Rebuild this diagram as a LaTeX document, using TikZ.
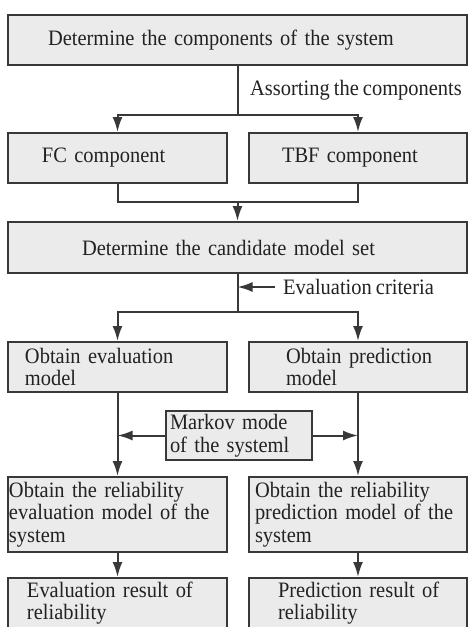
\documentclass[tikz,border=0pt]{standalone}
\usepackage{fontspec}
\setmainfont[FakeStretch=0.93,WordSpace=0.8]{Liberation Serif}
\usetikzlibrary{arrows.meta}
\definecolor{boxfill}{HTML}{EBEBEB}
\definecolor{boxline}{HTML}{383838}
\definecolor{txt}{HTML}{222222}
\newcommand\padtext[2]{\raggedright\leftskip=#1pt\relax #2\par}
\begin{document}
\begin{tikzpicture}[x=1pt,y=-1pt,
 box/.style={draw=boxline, fill=boxfill, line width=2pt, inner xsep=0pt, inner ysep=0pt, text=txt, font=\fontsize{22}{22.5}\selectfont, anchor=center},
 lbl/.style={inner sep=0pt, anchor=west, text=txt, font=\fontsize{22}{22.5}\selectfont},
 conn/.style={draw=boxline, line width=2pt},
 arr/.style={conn, -{Latex[length=15pt,width=10pt]}}]
\fill[white] (0,0) rectangle (469,627);
\clip (0,0) rectangle (469,627);
\useasboundingbox (0,0) rectangle (469,627);

\node[box, text width=459pt, minimum height=50pt] (b1) at (237.5,40) {\padtext{40}{Determine the components of the system}};
\node[box, text width=219pt, minimum height=50pt] (fc) at (117.5,158) {\padtext{34}{FC component}};
\node[box, text width=218pt, minimum height=50pt] (tbf) at (358,158) {\padtext{33}{TBF component}};
\node[box, text width=459pt, minimum height=51pt] (cand) at (237.5,247.5) {\padtext{74}{Determine the candidate model set}};
\node[box, text width=219pt, minimum height=50pt] (ev) at (117.5,367) {\padtext{17}{Obtain evaluation\\model}};
\node[box, text width=218pt, minimum height=50pt] (pr) at (358,367) {\padtext{37}{Obtain prediction\\model}};
\node[box, text width=146pt, minimum height=49pt] (mk) at (239,435.5) {\padtext{4}{Markov mode\\of the systeml}};
\node[box, text width=219pt, minimum height=75pt] (ev2) at (117.5,514.5) {\padtext{1}{Obtain the reliability\\evaluation model of the\\system}};
\node[box, text width=218pt, minimum height=75pt] (pr2) at (358,514.5) {\padtext{6}{Obtain the reliability\\prediction model of the\\system}};
\node[box, text width=219pt, minimum height=50pt] (res1) at (117.5,603) {\padtext{19}{Evaluation result of\\reliability}};
\node[box, text width=218pt, minimum height=50pt] (res2) at (358,603) {\padtext{29}{Prediction result of\\reliability}};

\node[lbl] (asrt) at (250,90) {Assorting the components};
\node[lbl] (crit) at (283,287) {Evaluation criteria};

\coordinate (j1) at (237.5,115);
\coordinate (j2) at (237.5,202);
\coordinate (j3) at (237.5,312);
\coordinate (c0) at (275,287);

\draw[conn] (b1.south) -- (j1);
\draw[arr] (j1) -| (fc.north);
\draw[arr] (j1) -| (tbf.north);
\draw[conn] (fc.south) |- (j2) -| (tbf.south);
\draw[arr] (j2) -- (cand.north);
\draw[conn] (cand.south) -- (j3);
\draw[arr] (c0) -- (c0 -| j3);
\draw[arr] (j3) -| (ev.north);
\draw[arr] (j3) -| (pr.north);
\draw[arr] (ev.south) -- (ev2.north);
\draw[arr] (pr.south) -- (pr2.north);
\draw[arr] (mk.west) -- (mk.west -| ev.south);
\draw[arr] (mk.east) -- (mk.east -| pr.south);
\draw[arr] (ev2.south) -- (res1.north);
\draw[arr] (pr2.south) -- (res2.north);
\end{tikzpicture}
\end{document}
